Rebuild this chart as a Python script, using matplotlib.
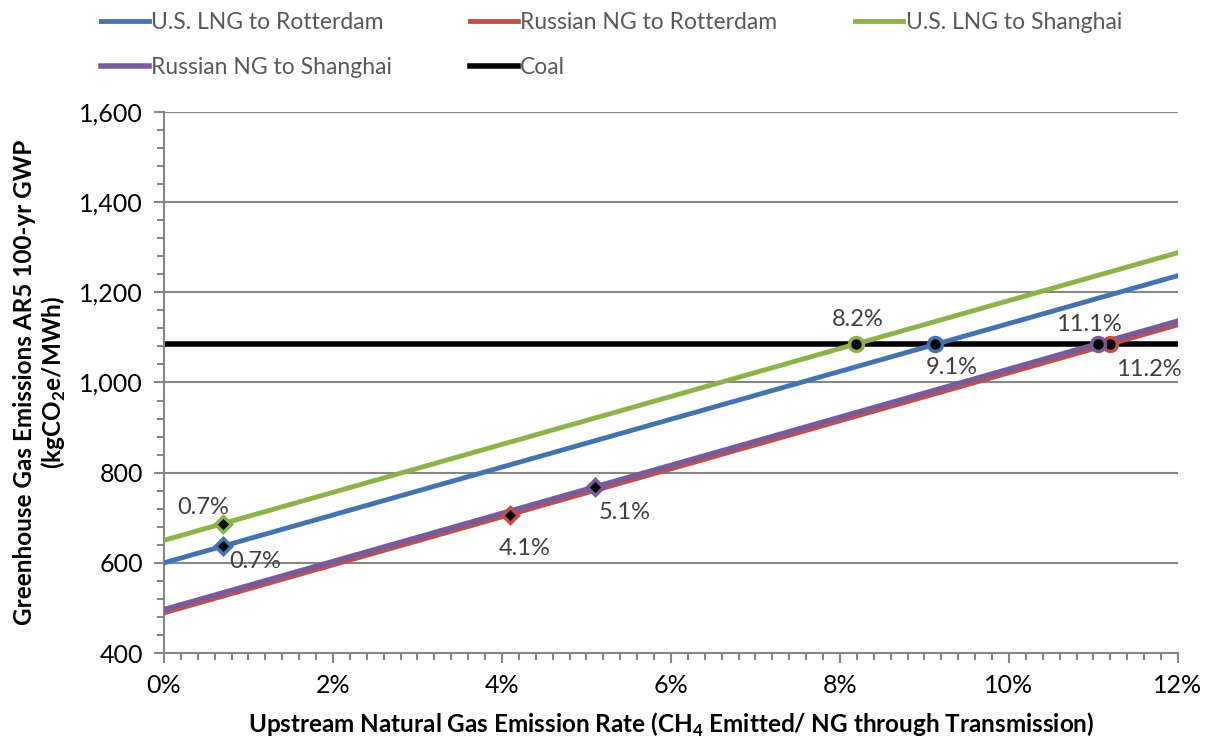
import matplotlib.pyplot as plt
from matplotlib.ticker import MultipleLocator, FuncFormatter

plt.rcParams['font.family'] = ['Lato', 'DejaVu Sans']
plt.rcParams['mathtext.fontset'] = 'custom'
plt.rcParams['mathtext.rm'] = 'Lato'
plt.rcParams['mathtext.bf'] = 'Lato:bold'

# emission rate (%) at the two ends of each line
rate = [0, 12]
us_rotterdam = [600, 1237]
ru_rotterdam = [489, 1128]
us_shanghai = [650, 1288]
ru_shanghai = [496, 1136]
coal = [1085, 1085]

# diamond markers (current estimates): blue, green, red, purple
diamond_x = [0.7, 0.7, 4.1, 5.1]
diamond_y = [637, 687, 707, 768]
diamond_lab = ['0.7%', '0.7%', '4.1%', '5.1%']

# break-even points with coal: blue, red, green, purple
cross_x = [9.13, 11.2, 8.19, 11.05]
cross_y = [1085, 1085, 1085, 1085]
cross_lab = ['9.1%', '11.2%', '8.2%', '11.1%']

blue = '#4473b0'
red = '#c0504d'
green = '#8db24a'
purple = '#7a5b9a'
txt = '#404040'

fig = plt.figure(figsize=(12.11, 7.44), dpi=100)
ax = fig.add_axes([0.1354, 0.1223, 0.8373, 0.7272])

ax.plot(rate, us_rotterdam, color=blue, lw=3.5, label='U.S. LNG to Rotterdam', zorder=3)
ax.plot(rate, ru_rotterdam, color=red, lw=3.5, label='Russian NG to Rotterdam', zorder=3)
ax.plot(rate, us_shanghai, color=green, lw=3.5, label='U.S. LNG to Shanghai', zorder=3)
ax.plot(rate, ru_shanghai, color=purple, lw=4, label='Russian NG to Shanghai', zorder=3)
ax.plot(rate, coal, color='black', lw=4, label='Coal', zorder=2)

d_cols = [blue, green, red, purple]
d_off = [(23, -11), (-14, 11.5), (10, -24.5), (21.5, -18)]
for i in range(4):
    ax.plot(diamond_x[i], diamond_y[i], marker='D', ms=8, mfc='black',
            mec=d_cols[i], mew=2.5, zorder=5)
    ax.annotate(diamond_lab[i], (diamond_x[i], diamond_y[i]), xytext=d_off[i],
                textcoords='offset points', ha='center', va='center',
                fontsize=17, color=txt)

c_cols = [blue, red, green, purple]
c_off = [(11.5, -17), (28, -18.5), (1.5, 17.5), (-6.5, 14)]
for i in range(4):
    ax.plot(cross_x[i], cross_y[i], marker='o', ms=10, mfc='black',
            mec=c_cols[i], mew=2.5, zorder=5)
    ax.annotate(cross_lab[i], (cross_x[i], cross_y[i]), xytext=c_off[i],
                textcoords='offset points', ha='center', va='center',
                fontsize=17, color=txt)

ax.set_xlim(0, 12)
ax.set_ylim(400, 1600)
ax.xaxis.set_major_locator(MultipleLocator(2))
ax.xaxis.set_minor_locator(MultipleLocator(0.2))
ax.yaxis.set_major_locator(MultipleLocator(200))
ax.yaxis.set_minor_locator(MultipleLocator(40))
ax.xaxis.set_major_formatter(FuncFormatter(lambda v, p: f'{v:.0f}%'))
ax.yaxis.set_major_formatter(FuncFormatter(lambda v, p: f'{v:,.0f}'))
ax.tick_params(which='both', color='#868686', width=1.5, labelsize=18)
ax.tick_params(which='major', length=7, pad=8)
ax.tick_params(which='minor', length=5)

ax.grid(axis='y', which='major', color='#868686', lw=1.5)
ax.set_axisbelow(True)
for s in ['top', 'right']:
    ax.spines[s].set_visible(False)
for s in ['left', 'bottom']:
    ax.spines[s].set_color('#868686')
    ax.spines[s].set_linewidth(1.5)

ax.set_xlabel(r'Upstream Natural Gas Emission Rate (CH$_\mathbf{4}$ Emitted/ NG through Transmission)',
              fontsize=17.5, fontweight='bold', labelpad=10)
ax.set_ylabel('Greenhouse Gas Emissions AR5 100-yr GWP\n' + r'(kgCO$_\mathbf{2}$e/MWh)',
              fontsize=17.5, fontweight='bold', labelpad=8)

h, l = ax.get_legend_handles_labels()
order = [0, 3, 1, 4, 2]
leg = fig.legend([h[i] for i in order], [l[i] for i in order], ncol=3,
                 loc='upper left', bbox_to_anchor=(0.066, 1.012), frameon=False,
                 fontsize=16.5, handlelength=2.1, handletextpad=0.1,
                 columnspacing=3.4, labelspacing=1.05)
for t in leg.get_texts():
    t.set_color('#595959')

fig.savefig('out.png', dpi=100)
